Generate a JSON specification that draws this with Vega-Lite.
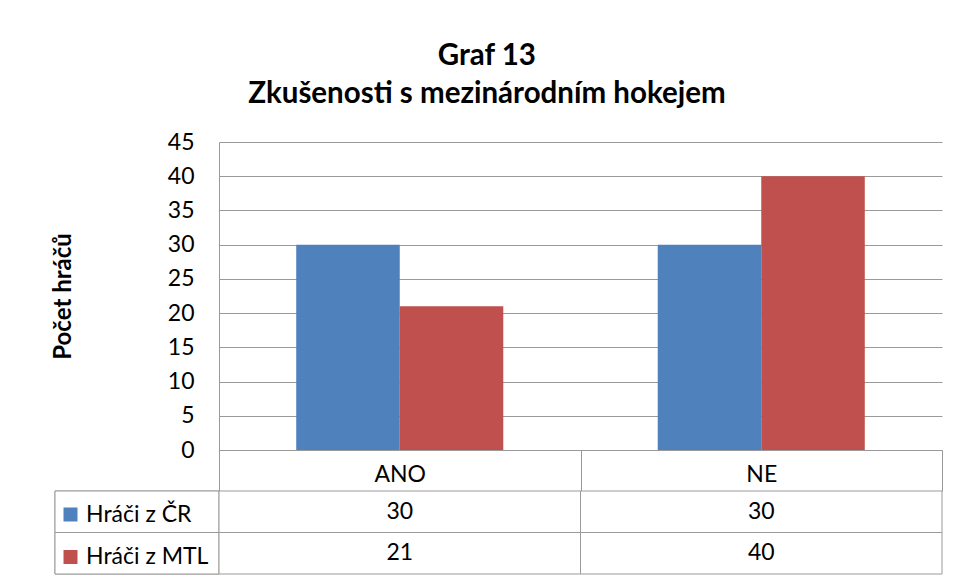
{
  "$schema": "https://vega.github.io/schema/vega-lite/v6.json",
  "background": "white",
  "padding": {"left": 51, "top": 40, "right": 16, "bottom": 6},
  "config": {
    "view": {"stroke": null},
    "font": "Lato",
    "axis": {"labelFont": "Lato", "titleFont": "Lato", "labelColor": "black", "titleColor": "black"},
    "legend": {"labelFont": "Lato", "labelColor": "black"},
    "title": {"font": "Lato", "fontSize": 29.5, "fontWeight": "bold", "color": "black", "lineHeight": 38}
  },
  "title": {"text": ["Graf 13", "Zkušenosti s mezinárodním hokejem"], "anchor": "middle", "dx": -10, "offset": 22},
  "datasets": {
    "d": [
      {"odpoved": "ANO", "serie": "Hráči z ČR", "pocet": 30},
      {"odpoved": "ANO", "serie": "Hráči z MTL", "pocet": 21},
      {"odpoved": "NE", "serie": "Hráči z ČR", "pocet": 30},
      {"odpoved": "NE", "serie": "Hráči z MTL", "pocet": 40}
    ]
  },
  "columns": 2,
  "bounds": "flush",
  "spacing": {"row": 41, "column": 0},
  "resolve": {"legend": {"color": "independent"}},
  "concat": [
    {
      "width": 164,
      "height": 308,
      "data": {"values": [{"a": 1}]},
      "mark": {"type": "point", "opacity": 0},
      "encoding": {}
    },
    {
      "width": 723,
      "height": 308,
      "data": {"name": "d"},
      "mark": {"type": "bar"},
      "encoding": {
        "x": {
          "field": "odpoved", "type": "nominal", "sort": ["ANO", "NE"],
          "scale": {"paddingInner": 0, "paddingOuter": 0},
          "axis": {"title": null, "labelAngle": 0, "tickBand": "extent", "tickSize": 41, "tickColor": "#9a9a9a", "domainColor": "#9a9a9a", "labelPadding": -17, "labelBaseline": "middle", "labelFontSize": 23}
        },
        "xOffset": {
          "field": "serie", "type": "nominal", "sort": ["Hráči z ČR", "Hráči z MTL"],
          "scale": {"paddingInner": 0, "paddingOuter": 0.746}
        },
        "y": {
          "field": "pocet", "type": "quantitative",
          "scale": {"domain": [0, 45]},
          "axis": {"title": "Počet hráčů", "titleFontSize": 24, "titleFontWeight": "bold", "titlePadding": 92, "ticks": false, "labelPadding": 25, "labelFontSize": 23, "gridColor": "#9a9a9a", "domainColor": "#9a9a9a", "values": [0, 5, 10, 15, 20, 25, 30, 35, 40, 45]}
        },
        "color": {
          "field": "serie", "type": "nominal",
          "scale": {"domain": ["Hráči z ČR", "Hráči z MTL"], "range": ["#4F81BD", "#C0504D"]},
          "legend": null
        }
      }
    },
    {
      "width": 164,
      "height": 83,
      "data": {"name": "d"},
      "layer": [
        {
          "mark": {"type": "rect", "fill": "white", "stroke": "#9a9a9a", "strokeWidth": 1},
          "encoding": {
            "y": {"field": "serie", "type": "nominal", "sort": ["Hráči z ČR", "Hráči z MTL"], "scale": {"paddingInner": 0, "paddingOuter": 0}, "axis": null}
          }
        },
        {
          "mark": {"type": "point", "shape": "square", "filled": true, "opacity": 0},
          "encoding": {
            "y": {"field": "serie", "type": "nominal", "sort": ["Hráči z ČR", "Hráči z MTL"], "axis": null},
            "color": {
              "field": "serie", "type": "nominal",
              "scale": {"domain": ["Hráči z ČR", "Hráči z MTL"], "range": ["#4F81BD", "#C0504D"]},
              "legend": {
                "orient": "top-left", "title": " ", "titleFontSize": 1, "titlePadding": 7,
                "symbolType": "square", "symbolSize": 196,
                "labelFontSize": 23, "labelOffset": 4, "rowPadding": 18.5, "offset": 4, "padding": 0,
                "symbolStrokeWidth": 0,
                "encode": {"symbols": {"update": {"opacity": {"value": 1}}}}
              }
            }
          }
        }
      ]
    },
    {
      "width": 723,
      "height": 83,
      "data": {"name": "d"},
      "encoding": {
        "x": {"field": "odpoved", "type": "nominal", "sort": ["ANO", "NE"], "scale": {"paddingInner": 0, "paddingOuter": 0}, "axis": null},
        "y": {"field": "serie", "type": "nominal", "sort": ["Hráči z ČR", "Hráči z MTL"], "scale": {"paddingInner": 0, "paddingOuter": 0}, "axis": null}
      },
      "layer": [
        {"mark": {"type": "rect", "fill": "white", "stroke": "#9a9a9a", "strokeWidth": 1}},
        {"mark": {"type": "text", "fontSize": 23, "font": "Lato", "color": "black"}, "encoding": {"text": {"field": "pocet", "type": "quantitative"}}}
      ]
    }
  ]
}
